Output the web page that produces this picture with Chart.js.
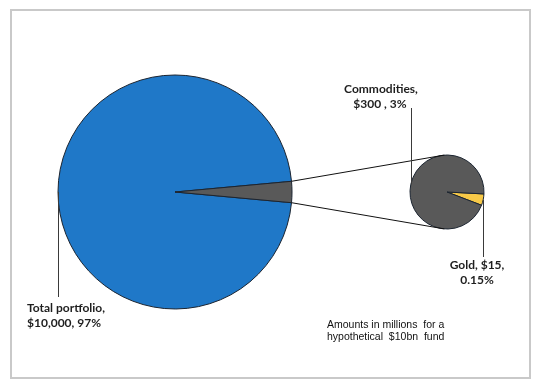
<!DOCTYPE html>
<html lang="en">
<head>
<meta charset="UTF-8">
<title>Commodities and gold - pie of pie</title>
<script src="https://cdn.jsdelivr.net/npm/chart.js"></script>
<style>
    * { margin: 0; padding: 0; box-sizing: border-box; }
    body { background: #fff; width: 535px; height: 385px; overflow: hidden; }
    .wrap { position: relative; width: 535px; height: 385px; }
    .frame {
        position: absolute; left: 10px; top: 9px; width: 521px; height: 370px;
        border: 2px solid #c9c9c9;
    }
    canvas { position: absolute; left: 0; top: 0; }
</style>
</head>
<body>
<div class="wrap">
    <div class="frame"></div>
    <canvas id="mainPie" width="535" height="385"></canvas>
    <canvas id="subPie" width="535" height="385"></canvas>
</div>
<script>
// Data
const mainLabels = ['Total portfolio', 'Commodities'];
const mainValues = [10000, 300];
const mainPct = ['97%', '3%'];
const subLabels = ['Gold', 'Other commodities'];
const subValues = [15, 285];
const subPct = ['0.15%', ''];
const noteLines = ['Amounts in millions  for a', 'hypothetical  $10bn  fund'];

const colors = {
    blue: '#1f78c8',
    gray: '#595959',
    gold: '#f7c948',
    edge: '#1b2430',
    text: '#1e1e1e'
};

const fmt = v => '$' + v.toLocaleString('en-US');
const deg = Math.PI / 180;

// slice of commodities centred on 3 o'clock
const grayAngle = mainValues[1] / (mainValues[0] + mainValues[1]) * 360;

const mainChart = new Chart(document.getElementById('mainPie'), {
    type: 'pie',
    data: {
        labels: mainLabels,
        datasets: [{
            data: mainValues,
            backgroundColor: [colors.blue, colors.gray],
            borderColor: colors.edge,
            borderWidth: 1,
            radius: 117
        }]
    },
    options: {
        responsive: false,
        animation: false,
        events: [],
        rotation: 90 + grayAngle / 2,
        layout: { padding: { left: 0, right: 185, top: 0, bottom: 1 } },
        plugins: { legend: { display: false }, tooltip: { enabled: false } }
    }
});

// connectors, leader lines and labels
const overlay = {
    id: 'overlay',
    afterDraw(chart) {
        const ctx = chart.ctx;
        const big = mainChart.getDatasetMeta(0).data;
        const small = chart.getDatasetMeta(0).data;
        const g = big[1];
        const R = g.outerRadius;
        const cx = small[0].x, cy = small[0].y, r = small[0].outerRadius;

        ctx.save();
        ctx.strokeStyle = '#111';
        ctx.lineWidth = 1;

        // lines from the commodities slice to the second pie
        const ends = [
            [g.x + R * Math.cos(g.startAngle), g.y + R * Math.sin(g.startAngle), 1],
            [g.x + R * Math.cos(g.endAngle), g.y + R * Math.sin(g.endAngle), -1]
        ];
        ends.forEach(([px, py, s]) => {
            const d = Math.hypot(px - cx, py - cy);
            const t = Math.atan2(py - cy, px - cx) + s * (Math.acos(r / d) + 0.1);
            ctx.beginPath();
            ctx.moveTo(px, py);
            ctx.lineTo(cx + r * Math.cos(t), cy + r * Math.sin(t));
            ctx.stroke();
        });

        // leader lines
        ctx.strokeStyle = '#3a3a3a';
        const leaders = [];
        leaders.push([g.x - R, g.y, g.x - R, 297]);
        const ca = 192 * deg;
        leaders.push([cx + r * Math.cos(ca), cy + r * Math.sin(ca), cx + r * Math.cos(ca), 108]);
        const gold = small[0];
        const ga = (gold.startAngle + gold.endAngle) / 2;
        leaders.push([cx + r * Math.cos(ga), cy + r * Math.sin(ga), cx + r * Math.cos(ga), 257]);
        leaders.forEach(([x1, y1, x2, y2]) => {
            ctx.beginPath();
            ctx.moveTo(Math.round(x1) + 0.5, y1);
            ctx.lineTo(Math.round(x2) + 0.5, y2);
            ctx.stroke();
        });

        // data labels
        ctx.fillStyle = colors.text;
        ctx.textBaseline = 'middle';
        ctx.font = 'bold 12px Lato';
        ctx.textAlign = 'left';
        ctx.fillText(mainLabels[0] + ',', 27, 308);
        ctx.fillText(fmt(mainValues[0]) + ', ' + mainPct[0], 27, 323);

        ctx.textAlign = 'center';
        ctx.fillText(mainLabels[1] + ',', 381, 89);
        ctx.fillText(fmt(mainValues[1]) + ' , ' + mainPct[1], 380, 104);

        ctx.fillText(subLabels[0] + ', ' + fmt(subValues[0]) + ',', 477, 265);
        ctx.fillText(subPct[0], 477, 280);

        // note
        ctx.font = '10.5px "Liberation Sans"';
        ctx.textAlign = 'left';
        ctx.fillStyle = '#111';
        noteLines.forEach((t, i) => ctx.fillText(t, 327, 325 + i * 12));
        ctx.restore();
    }
};

new Chart(document.getElementById('subPie'), {
    type: 'pie',
    data: {
        labels: subLabels,
        datasets: [{
            data: subValues,
            backgroundColor: [colors.gold, colors.gray],
            borderColor: colors.edge,
            borderWidth: 1,
            radius: 37
        }]
    },
    options: {
        responsive: false,
        animation: false,
        events: [],
        rotation: 93,
        layout: { padding: { left: 359, right: 0, top: 0, bottom: 1 } },
        plugins: { legend: { display: false }, tooltip: { enabled: false } }
    },
    plugins: [overlay]
});
</script>
</body>
</html>
